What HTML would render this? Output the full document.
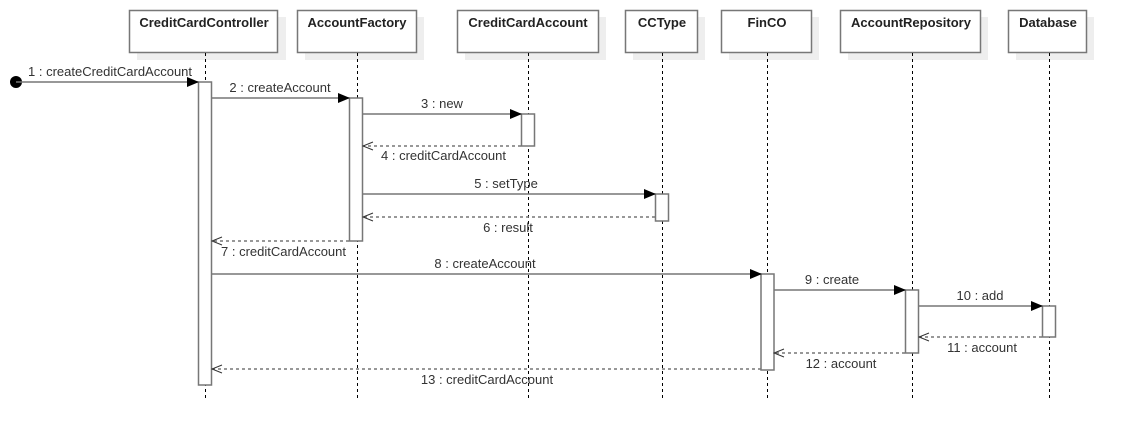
<!DOCTYPE html>
<html><head><meta charset="utf-8"><style>
html,body{margin:0;padding:0;background:#fff;width:1126px;height:442px;overflow:hidden}
svg{display:block}
text{font-family:"Liberation Sans",Arial,sans-serif;font-size:13px;fill:#333}
.h{font-weight:bold;fill:#222;font-size:13px}
</style></head><body>
<svg width="1126" height="442" viewBox="0 0 1126 442" xmlns="http://www.w3.org/2000/svg">
<defs>
<marker id="f" markerWidth="12" markerHeight="10" refX="11" refY="5" orient="auto" markerUnits="userSpaceOnUse"><path d="M0,0 L12,5 L0,10 z" fill="#000"/></marker>
<marker id="o" markerWidth="12" markerHeight="10" refX="11" refY="5" orient="auto" markerUnits="userSpaceOnUse"><path d="M1,1 L11,5 L1,9" fill="none" stroke="#333" stroke-width="1"/></marker>
</defs>
<g fill="#eee">
<rect x="137" y="17" width="149" height="43"/>
<rect x="305" y="17" width="119" height="43"/>
<rect x="465" y="17" width="141" height="43"/>
<rect x="633" y="17" width="72" height="43"/>
<rect x="729" y="17" width="90" height="43"/>
<rect x="848" y="17" width="140" height="43"/>
<rect x="1016" y="17" width="78" height="43"/>
</g>
<g fill="#fff" stroke="#777" stroke-width="1.5">
<rect x="129.5" y="10.5" width="148" height="42"/>
<rect x="297.5" y="10.5" width="119" height="42"/>
<rect x="457.5" y="10.5" width="141" height="42"/>
<rect x="625.5" y="10.5" width="72" height="42"/>
<rect x="721.5" y="10.5" width="90" height="42"/>
<rect x="840.5" y="10.5" width="140" height="42"/>
<rect x="1008.5" y="10.5" width="78" height="42"/>
</g>
<g text-anchor="middle">
<text class="h" x="204" y="27">CreditCardController</text>
<text class="h" x="357" y="27">AccountFactory</text>
<text class="h" x="528" y="27">CreditCardAccount</text>
<text class="h" x="662" y="27">CCType</text>
<text class="h" x="767" y="27">FinCO</text>
<text class="h" x="911" y="27">AccountRepository</text>
<text class="h" x="1048" y="27">Database</text>
</g>
<g stroke="#000" stroke-width="1" stroke-dasharray="3,3">
<line x1="205.5" y1="53" x2="205.5" y2="401"/>
<line x1="357.5" y1="53" x2="357.5" y2="401"/>
<line x1="528.5" y1="53" x2="528.5" y2="401"/>
<line x1="662.5" y1="53" x2="662.5" y2="401"/>
<line x1="767.5" y1="53" x2="767.5" y2="401"/>
<line x1="912.5" y1="53" x2="912.5" y2="401"/>
<line x1="1049.5" y1="53" x2="1049.5" y2="401"/>
</g>
<g fill="#fff" stroke="#777" stroke-width="1.5">
<rect x="198.5" y="82" width="13" height="303"/>
<rect x="349.5" y="98" width="13" height="143"/>
<rect x="521.5" y="114" width="13" height="32"/>
<rect x="655.5" y="194" width="13" height="27"/>
<rect x="761" y="274" width="13" height="96"/>
<rect x="905.5" y="290" width="13" height="63"/>
<rect x="1042.5" y="306" width="13" height="31"/>
</g>
<circle cx="16" cy="82" r="6" fill="#000"/>
<g stroke="#777" stroke-width="1.5" fill="none" marker-end="url(#f)">
<line x1="16" y1="82" x2="198" y2="82"/>
<line x1="212" y1="98" x2="349" y2="98"/>
<line x1="363" y1="114" x2="521" y2="114"/>
<line x1="363" y1="194" x2="655" y2="194"/>
<line x1="212" y1="274" x2="761" y2="274"/>
<line x1="774" y1="290" x2="905" y2="290"/>
<line x1="919" y1="306" x2="1042" y2="306"/>
</g>
<g stroke="#777" stroke-width="1.5" fill="none" stroke-dasharray="3,3" marker-end="url(#o)">
<line x1="521" y1="146" x2="363" y2="146"/>
<line x1="655" y1="217" x2="363" y2="217"/>
<line x1="349" y1="241" x2="212" y2="241"/>
<line x1="1042" y1="337" x2="919" y2="337"/>
<line x1="905" y1="353" x2="774" y2="353"/>
<line x1="761" y1="369" x2="212" y2="369"/>
</g>
<text x="28" y="76">1 : createCreditCardAccount</text>
<text x="280" y="92" text-anchor="middle">2 : createAccount</text>
<text x="442" y="108" text-anchor="middle">3 : new</text>
<text x="381" y="160">4 : creditCardAccount</text>
<text x="506" y="188" text-anchor="middle">5 : setType</text>
<text x="508" y="232" text-anchor="middle">6 : result</text>
<text x="221" y="256">7 : creditCardAccount</text>
<text x="485" y="268" text-anchor="middle">8 : createAccount</text>
<text x="832" y="284" text-anchor="middle">9 : create</text>
<text x="980" y="300" text-anchor="middle">10 : add</text>
<text x="982" y="352" text-anchor="middle">11 : account</text>
<text x="841" y="368" text-anchor="middle">12 : account</text>
<text x="487" y="384" text-anchor="middle">13 : creditCardAccount</text>
</svg>
</body></html>
